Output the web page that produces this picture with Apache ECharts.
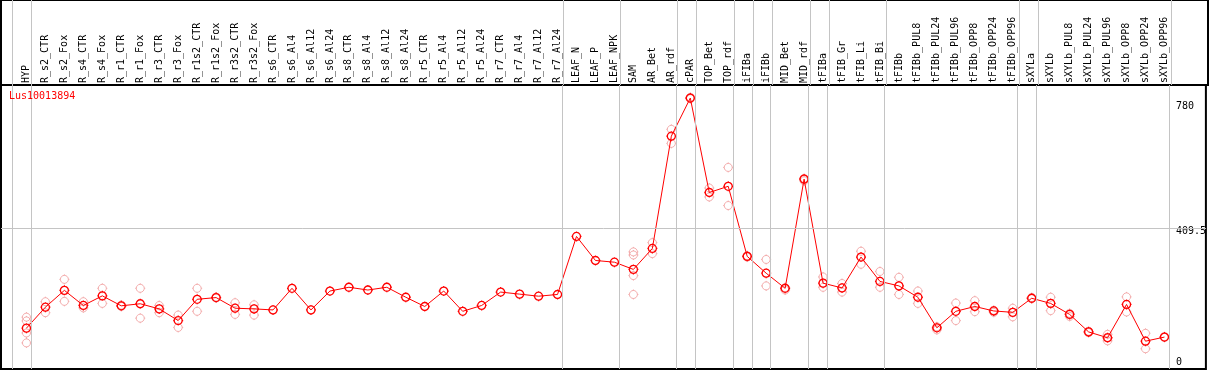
<!DOCTYPE html>
<html><head><meta charset="utf-8">
<script src="https://cdn.jsdelivr.net/npm/echarts@6/dist/echarts.min.js"></script>
<style>html,body{margin:0;padding:0;background:#fff}#c{width:1209px;height:370px}</style>
</head><body><div id="c"></div>
<script>
const chartTitle = 'Lus10013894';
const categories = ['HYP','R_s2_CTR','R_s2_Fox','R_s4_CTR','R_s4_Fox','R_r1_CTR','R_r1_Fox','R_r3_CTR','R_r3_Fox','R_r1s2_CTR','R_r1s2_Fox','R_r3s2_CTR','R_r3s2_Fox','R_s6_CTR','R_s6_Al4','R_s6_Al12','R_s6_Al24','R_s8_CTR','R_s8_Al4','R_s8_Al12','R_s8_Al24','R_r5_CTR','R_r5_Al4','R_r5_Al12','R_r5_Al24','R_r7_CTR','R_r7_Al4','R_r7_Al12','R_r7_Al24','LEAF_N','LEAF_P','LEAF_NPK','SAM','AR_Bet','AR_rdf','cPAR','TOP_Bet','TOP_rdf','iFIBa','iFIBb','MID_Bet','MID_rdf','tFIBa','tFIB_Gr','tFIB_Li','tFIB_Bi','tFIBb','tFIBb_PUL8','tFIBb_PUL24','tFIBb_PUL96','tFIBb_OPP8','tFIBb_OPP24','tFIBb_OPP96','sXYLa','sXYLb','sXYLb_PUL8','sXYLb_PUL24','sXYLb_PUL96','sXYLb_OPP8','sXYLb_OPP24','sXYLb_OPP96'];
const means = [119,180,229,185,213,184,190,175,141,203,208,177,175,172,235,172,227,238,230,238,209,182,227,168,185,224,218,212,217,386,316,311,290,351,678,789,514,532,328,279,235,553,250,236,326,255,242,209,120,168,182,169,165,206,191,159,108,91,188,81,93];
const replicates = [[151,140,105,76],[196,164],[261,197],[196,178],[235,191],[186,182],[235,148],[185,164],[157,121],[235,168],[209,207],[193,159],[187,157],[],[],
  [],[],[],[],[],[],[],[],[],[],[],[],[],[],[],[],[],
  [341,332,272,217],[368,336],[698,657],[791,787],[527,501],[587,476],[330,326],[319,242],[237,230],[555,548],[268,238],[249,224],[343,305],[284,238],[267,217],[227,191],[123,114],[192,141],[199,167],[171,165],[177,152],[208,205],[209,170],[162,153],[110,106],[101,82],[210,166],[104,59],[94,92]];
const groupEnds = [-1,0,28,31,34,35,37,38,39,41,42,45,52,53,60];
const yTickLabels = [0, 409.5, 780];
const gridLine = 409.5;

const FONT = 'DejaVu Sans Mono';
const X_MIN = -1.342, X_MAX = 62.184;
const LINE_OFFSET = 4.5 / 19;
const markerPath = 'path://M1 5C1 2.791 2.791 1 5 1C7.209 1 9 2.791 9 5C9 7.209 7.209 9 5 9C2.791 9 1 7.209 1 5ZM5 0L5 1M5 9L5 10M0 5L1 5M9 5L10 5';

const meanData = means.map((v, i) => [i, v]);
const repData = [];
replicates.forEach((arr, i) => arr.forEach(v => repData.push([i, v])));
const vLines = groupEnds.map(e => ({ xAxis: e + LINE_OFFSET }));
const vLineStyle = { color: '#c4c4c4', width: 1, type: 'solid' };

const chart = echarts.init(document.getElementById('c'), null, { renderer: 'canvas' });
chart.setOption({
  animation: false,
  backgroundColor: '#fff',
  title: {
    text: chartTitle, left: 9, top: 91, padding: 0,
    textStyle: { color: '#ff0000', fontSize: 10, fontFamily: FONT, fontWeight: 'normal' }
  },
  grid: [
    { left: 1, right: 1, top: 0, height: 85, show: true, borderColor: '#000', borderWidth: 2, backgroundColor: '#fff' },
    { left: 1, right: 1, top: 85, bottom: 1, show: true, borderColor: '#000', borderWidth: 2, backgroundColor: 'transparent' }
  ],
  xAxis: [
    { gridIndex: 1, type: 'value', min: X_MIN, max: X_MAX, position: 'top',
      axisLine: { show: false }, axisTick: { show: false }, splitLine: { show: false },
      axisLabel: { customValues: categories.map((c, i) => i), formatter: v => categories[Math.round(v)] || '',
        rotate: 90, margin: 2, fontSize: 10, fontFamily: FONT, color: '#000' } },
    { gridIndex: 0, type: 'value', min: X_MIN, max: X_MAX, show: false }
  ],
  yAxis: [
    { gridIndex: 1, type: 'value', min: 0, max: 827, position: 'right',
      axisLine: { show: false }, axisTick: { show: false }, splitLine: { show: false },
      axisLabel: { inside: true, customValues: yTickLabels, align: 'left', margin: 30,
        fontSize: 10, fontFamily: FONT, color: '#000',
        formatter: v => v === 780 ? '{a|780}' : (v === 409.5 ? '{b|409.5}' : '{c|' + v + '}'),
        rich: {
          a: { fontSize: 10, fontFamily: FONT, color: '#000', padding: [10, 0, 0, 0] },
          b: { fontSize: 10, fontFamily: FONT, color: '#000', padding: [7, 0, 0, 0] },
          c: { fontSize: 10, fontFamily: FONT, color: '#000', padding: [0, 0, 14, 0] }
        } } },
    { gridIndex: 0, type: 'value', min: 0, max: 1, show: false }
  ],
  series: [
    { type: 'scatter', xAxisIndex: 1, yAxisIndex: 1, data: [], silent: true,
      markLine: { silent: true, symbol: ['none', 'none'], label: { show: false }, lineStyle: vLineStyle, data: vLines } },
    { type: 'scatter', xAxisIndex: 0, yAxisIndex: 0, data: [], silent: true,
      markLine: { silent: true, symbol: ['none', 'none'], label: { show: false }, lineStyle: vLineStyle,
        data: vLines.concat([{ yAxis: gridLine }]) } },
    { name: 'replicates', type: 'scatter', xAxisIndex: 0, yAxisIndex: 0, data: repData, silent: true, z: 3,
      symbol: markerPath, symbolSize: 10,
      itemStyle: { color: 'rgba(0,0,0,0)', borderColor: '#f09a9a', borderWidth: 1 } },
    { name: 'mean', type: 'line', xAxisIndex: 0, yAxisIndex: 0, data: meanData, silent: true, z: 4,
      showAllSymbol: true, symbol: markerPath, symbolSize: 10,
      lineStyle: { color: '#ff0000', width: 1 },
      itemStyle: { color: 'rgba(0,0,0,0)', borderColor: '#ff0000', borderWidth: 1.3 } }
  ]
});
</script>
</body></html>
